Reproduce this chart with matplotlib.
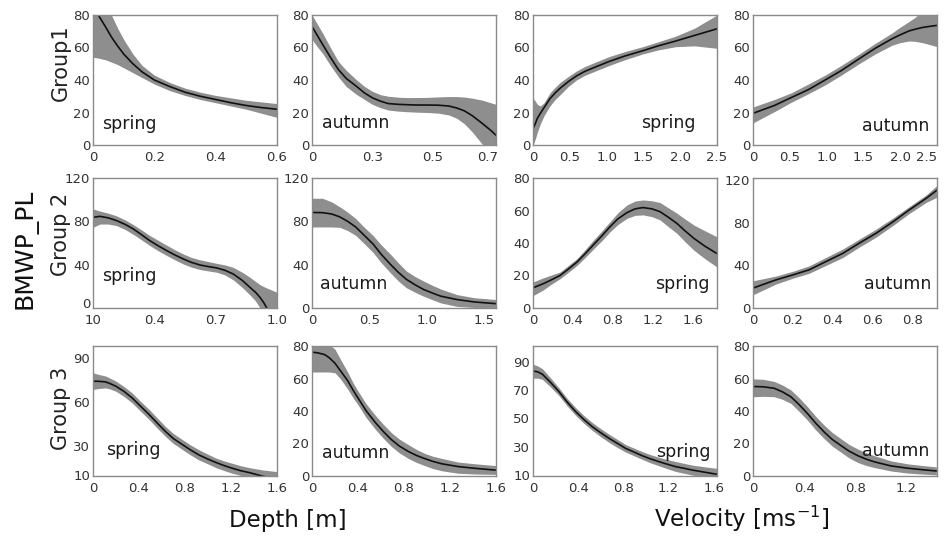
import matplotlib
matplotlib.use("Agg")
import matplotlib.pyplot as plt

plt.rcParams["font.family"] = ["DejaVu Sans"]

# values: x, fitted curve, lower / upper band edge
# --- Group 1 ---
g1_dep_spr_x = [0, 0.017, 0.04, 0.06, 0.08, 0.1, 0.13, 0.16, 0.2, 0.25, 0.3, 0.35, 0.4, 0.45, 0.5, 0.55, 0.6]
g1_dep_spr_fit = [86, 80, 73, 66.5, 61, 56, 50, 45, 40, 36, 32.5, 30, 28, 26, 24.3, 23, 22]
g1_dep_spr_lo = [54, 53.5, 52.5, 51, 49.5, 47.5, 44.5, 41.5, 37.5, 33.5, 30.5, 28, 26, 24, 22, 19.5, 17]
g1_dep_spr_hi = [110, 100, 90, 80, 72, 65, 56, 49, 43, 38.5, 35, 32.5, 30.5, 29, 27.5, 26.5, 25.5]

g1_dep_aut_x = [0, 0.02, 0.04, 0.07, 0.1, 0.13, 0.17, 0.2, 0.23, 0.26, 0.29, 0.33, 0.36, 0.4,
                0.44, 0.48, 0.52, 0.55, 0.58, 0.61, 0.65, 0.68, 0.7]
g1_dep_aut_fit = [73, 67.5, 62, 54, 46.5, 41, 36, 32, 29, 27, 25.5, 25, 24.8, 24.6,
                  24.6, 24.5, 24, 22.8, 21, 18, 13, 9, 6]
g1_dep_aut_lo = [65, 60.5, 56.5, 49, 42, 36, 31, 28, 25, 23, 21.5, 20.8, 20.5, 20.2,
                 20, 19.6, 18.5, 16.5, 13, 8, 0, -7, -12]
g1_dep_aut_hi = [80, 74.5, 69, 60, 51.5, 46, 40, 36, 33, 31, 30, 29.4, 29.2, 29.2,
                 29.3, 29.6, 29.8, 29.8, 29.5, 28.8, 27.5, 26, 25]

g1_vel_spr_x = [0, 0.03, 0.06, 0.1, 0.15, 0.23, 0.3, 0.37, 0.48, 0.59, 0.7, 0.82, 1.04, 1.25,
                1.49, 1.7, 1.94, 2.2, 2.5]
g1_vel_spr_fit = [10, 13, 16.5, 19.5, 23, 28.5, 32, 35, 39, 42.5, 45.2, 47.5, 51.5, 54.8,
                  58, 61, 64, 67.5, 71.5]
g1_vel_spr_lo = [0, 3.5, 8, 13, 18, 24, 28, 31, 36, 40, 42.8, 45, 49, 52.5,
                 56, 58.5, 60.5, 61, 59.5]
g1_vel_spr_hi = [29, 27, 25, 24, 26, 32, 35.5, 38.5, 42.2, 45.5, 48.2, 50.5, 54.5, 57.5,
                 60.5, 63.5, 67, 72, 80]

g1_vel_aut_x = [0, 0.29, 0.52, 0.75, 0.98, 1.2, 1.43, 1.66, 1.89, 2.0, 2.12, 2.2, 2.3, 2.4, 2.5]
g1_vel_aut_fit = [19.5, 24.3, 29.2, 34, 40, 45.8, 52.7, 59.5, 65.4, 67.8, 70.2, 71.2, 72.3, 73, 73.6]
g1_vel_aut_lo = [13.6, 20.5, 26.3, 31.5, 37, 43, 49.7, 56, 61.4, 63, 64, 63.8, 63, 61.8, 60.5]
g1_vel_aut_hi = [23.4, 28, 32.1, 37.5, 43, 49, 55.6, 62.5, 69, 72.5, 76, 78.5, 82, 85, 88]

# --- Group 2 ---
g2_dep_spr_x = [0.1, 0.134, 0.175, 0.216, 0.257, 0.297, 0.338, 0.379, 0.42, 0.46, 0.5, 0.542,
                0.58, 0.623, 0.665, 0.705, 0.745, 0.786, 0.83, 0.868, 0.895, 0.917, 0.935,
                0.95, 0.975, 1.0]
g2_dep_spr_fit = [83.7, 84.6, 83.2, 80.6, 77.2, 73, 67.6, 62, 57.3, 53, 49, 45.2,
                  42.2, 39.7, 38.2, 37, 34.8, 31.4, 25.5, 19, 14.5, 9.8, 5,
                  0, -6, -12]
g2_dep_spr_lo = [74.5, 77.5, 77.5, 76, 72.5, 68, 62.8, 57.5, 52.7, 48.5, 44.5, 40.6,
                 37.8, 35.5, 34.2, 33, 30.5, 26, 19, 12, 6.5, 0, -5,
                 -10, -17, -25]
g2_dep_spr_hi = [91.4, 89.5, 87.5, 85, 81.3, 77, 72, 66.8, 62.3, 58, 53.8, 49.8,
                 46.8, 44.5, 42.8, 41.2, 39.8, 37.5, 33, 28.3, 24.5, 21.5, 19.8,
                 18.5, 16.5, 14.5]

g2_dep_aut_x = [0, 0.09, 0.17, 0.24, 0.31, 0.38, 0.45, 0.53, 0.6, 0.68, 0.75, 0.82, 0.9, 0.97,
                1.05, 1.12, 1.26, 1.41, 1.6]
g2_dep_aut_fit = [88.2, 88, 86.8, 84.2, 80, 74.8, 67.5, 59.2, 49.8, 40.5, 33, 26.5, 21.2, 17.1,
                  13.7, 10.9, 7.8, 5.6, 4]
g2_dep_aut_lo = [74.8, 74.8, 74.8, 74.5, 71.5, 67, 59.8, 51.4, 42, 32.7, 25, 18.7, 14.3, 10.9,
                 7.5, 4.7, 1.5, 0.5, 0]
g2_dep_aut_hi = [101.3, 101.3, 98, 93.5, 88.5, 82.6, 75, 67, 58.5, 49.9, 41.8, 34.2, 28.8, 24.9,
                 20.8, 17.5, 12.4, 9.5, 7.8]

g2_vel_spr_x = [0, 0.1, 0.18, 0.27, 0.35, 0.44, 0.52, 0.6, 0.69, 0.77, 0.85, 0.94, 1.02, 1.1,
                1.19, 1.27, 1.35, 1.44, 1.52, 1.61, 1.72, 1.84]
g2_vel_spr_fit = [12.4, 14.9, 17.2, 20, 23.8, 28.3, 33.3, 38.6, 44.5, 50, 54.9, 58.7, 61, 61.8,
                  61, 59.3, 56, 52, 47.5, 42.8, 38, 33.5]
g2_vel_spr_lo = [7.6, 11, 14.5, 18, 21.8, 26.2, 31, 36, 41.5, 46.9, 51.4, 55.2, 57, 57.3,
                 56.2, 54.2, 50.2, 45.9, 40.8, 35.5, 30.3, 25.2]
g2_vel_spr_hi = [16, 18.5, 20.2, 22.1, 26, 30.4, 35.8, 41.5, 47.5, 53.1, 58.7, 63.4, 65.8, 66.5,
                 66, 64.9, 61.8, 58.3, 54.8, 51, 47.5, 43.8]

g2_vel_aut_x = [0, 0.115, 0.2, 0.28, 0.365, 0.45, 0.53, 0.615, 0.7, 0.78, 0.865, 0.92]
g2_vel_aut_fit = [18.7, 26.4, 31.1, 35.8, 43.6, 51.4, 60.7, 70.1, 80.9, 91.9, 102.8, 110.6]
g2_vel_aut_lo = [12.4, 22.5, 28, 32.5, 40, 47.5, 57, 66.5, 77.5, 88.5, 99, 104]
g2_vel_aut_hi = [25.5, 30, 34.5, 39.5, 47.5, 55.5, 64.5, 74, 84.5, 95, 106, 115]

# --- Group 3 ---
g3_dep_spr_x = [0, 0.05, 0.11, 0.15, 0.2, 0.27, 0.34, 0.41, 0.49, 0.56, 0.63, 0.7, 0.78, 0.85,
                0.92, 1.0, 1.07, 1.14, 1.21, 1.28, 1.36, 1.47, 1.6]
g3_dep_spr_fit = [74, 73.9, 73.5, 72.3, 70.5, 67, 62.6, 57.2, 51.1, 45.3, 39.7, 34.8, 30.6, 27,
                  23.7, 20.8, 18.5, 16.4, 14.6, 13, 11.6, 9.3, 7]
g3_dep_spr_lo = [68.3, 69, 69.4, 68.6, 67.1, 63.5, 59.2, 53.8, 47.7, 41.8, 36.3, 31.4, 27.2, 23.6,
                 20.3, 17.5, 15, 13, 11.2, 9.8, 8.5, 6, 3]
g3_dep_spr_hi = [79.7, 78.6, 77.5, 76, 74, 70.3, 66, 60.5, 54.6, 48.8, 43.1, 38.2, 34, 30.4,
                 27.2, 24.1, 21.5, 19.6, 18, 16.4, 15, 13.5, 12.3]

g3_dep_aut_x = [0, 0.05, 0.11, 0.15, 0.2, 0.25, 0.31, 0.36, 0.4, 0.47, 0.55, 0.62, 0.69, 0.76,
                0.84, 0.91, 0.98, 1.05, 1.13, 1.27, 1.42, 1.6]
g3_dep_aut_fit = [76.2, 75.8, 74.7, 72.8, 69.4, 64.5, 58.7, 52.5, 48, 40.2, 33, 27.4, 22.4, 18.4,
                  15, 12.6, 10.7, 9, 7.5, 5.8, 4.7, 3.6]
g3_dep_aut_lo = [64, 64, 64, 64, 63.5, 59.5, 53.5, 47.8, 43.8, 36, 28.8, 23.2, 18.2, 14.2,
                 10.7, 8.3, 6.4, 4.6, 3.2, 1.7, 1.2, 1]
g3_dep_aut_hi = [90, 87, 84, 81, 78, 71.5, 64, 57, 52.3, 44.5, 37.4, 31.8, 26.7, 22.7,
                 19.2, 16.3, 13.9, 12.2, 10.8, 8.6, 7.5, 6.4]

g3_vel_spr_x = [0, 0.04, 0.083, 0.15, 0.23, 0.3, 0.378, 0.45, 0.525, 0.6, 0.673, 0.75, 0.82, 0.9,
                0.968, 1.04, 1.116, 1.19, 1.264, 1.34, 1.41, 1.52, 1.63]
g3_vel_spr_fit = [83.4, 82.8, 81.1, 75.8, 68.8, 61.7, 54.7, 49.2, 44.1, 39.8, 35.9, 32.2, 28.8, 26,
                  23.6, 21.4, 19.4, 17.6, 15.9, 14.7, 13.5, 12, 10.5]
g3_vel_spr_lo = [78.3, 78.3, 77.5, 72.5, 66, 59, 52, 46.5, 41.5, 37, 33, 29.3, 26.2, 23.4,
                 21, 18.6, 16.5, 14.4, 12.5, 11.2, 10, 8.5, 7]
g3_vel_spr_hi = [88.2, 87, 85, 79, 71.5, 64.3, 57.5, 52, 47, 42.7, 38.8, 35, 31.5, 28.8,
                 26.5, 24.4, 22.5, 20.9, 19.5, 18.2, 17, 15.8, 14.7]

g3_vel_aut_x = [0, 0.08, 0.165, 0.23, 0.296, 0.36, 0.427, 0.49, 0.558, 0.62, 0.689, 0.75, 0.82,
                0.885, 0.95, 1.08, 1.21, 1.32, 1.435]
g3_vel_aut_fit = [55.1, 54.9, 54, 51.8, 48.8, 44, 38.4, 32.6, 27, 22.5, 18.7, 15.4, 12.5,
                  10.4, 8.7, 6.2, 4.8, 3.9, 3.1]
g3_vel_aut_lo = [48.8, 49, 48.8, 47.2, 44.7, 39.8, 34.3, 28.4, 22.9, 18.4, 14.6, 11.2, 8.3,
                 6.5, 5.2, 3.1, 1.8, 1.2, 0.7]
g3_vel_aut_hi = [59.8, 59.5, 58.2, 56, 53, 48.2, 42.6, 36.8, 31.2, 26.8, 22.9, 19.5, 16.6,
                 14.3, 12.5, 9.3, 7.5, 6.5, 5.6]

groups = ["Group1", "Group 2", "Group 3"]
seasons = ["spring", "autumn", "spring", "autumn"]

# per-panel axis set-up: (xlim, xticks, xticklabels, ylim, yticks)
axis_spec = [
    [((0, 0.6), [0, 0.2, 0.4, 0.6], ["0", "0.2", "0.4", "0.6"], (0, 80), [0, 20, 40, 60, 80]),
     ((0, 0.7), [0, 0.23, 0.46, 0.67], ["0", "0.3", "0.5", "0.7"], (0, 80), [0, 20, 40, 60, 80]),
     ((0, 2.5), [0, 0.5, 1.0, 1.5, 2.0, 2.5], ["0", "0.5", "1.0", "1.5", "2.0", "2.5"], (0, 80), [0, 20, 40, 60, 80]),
     ((0, 2.5), [0, 0.5, 1.0, 1.5, 2.0, 2.5], ["0", "0.5", "1.0", "1.5", "2.0", "2.5"], (0, 80), [0, 20, 40, 60, 80])],
    [((0.1, 1.0), [0.1, 0.4, 0.7, 1.0], ["10", "0.4", "0.7", "1.0"], (0, 120), [0, 40, 80, 120]),
     ((0, 1.6), [0, 0.5, 1.0, 1.5], ["0", "0.5", "1.0", "1.5"], (0, 120), [0, 40, 80, 120]),
     ((0, 1.84), [0, 0.4, 0.8, 1.2, 1.6], ["0", "0.4", "0.8", "1.2", "1.6"], (0, 80), [0, 20, 40, 60, 80]),
     ((0, 0.92), [0, 0.2, 0.4, 0.6, 0.8], ["0", "0.2", "0.4", "0.6", "0.8"], (0, 122), [0, 40, 80, 120])],
    [((0, 1.6), [0, 0.4, 0.8, 1.2, 1.6], ["0", "0.4", "0.8", "1.2", "1.6"], (9.3, 98), [10, 30, 60, 90]),
     ((0, 1.6), [0, 0.4, 0.8, 1.2, 1.6], ["0", "0.4", "0.8", "1.2", "1.6"], (0, 80), [0, 20, 40, 60, 80]),
     ((0, 1.63), [0, 0.4, 0.8, 1.2, 1.6], ["0", "0.4", "0.8", "1.2", "1.6"], (9.3, 101), [10, 30, 50, 70, 90]),
     ((0, 1.44), [0, 0.4, 0.8, 1.2], ["0", "0.4", "0.8", "1.2"], (0, 80), [0, 20, 40, 60, 80])],
]

data = [
    [(g1_dep_spr_x, g1_dep_spr_fit, g1_dep_spr_lo, g1_dep_spr_hi),
     (g1_dep_aut_x, g1_dep_aut_fit, g1_dep_aut_lo, g1_dep_aut_hi),
     (g1_vel_spr_x, g1_vel_spr_fit, g1_vel_spr_lo, g1_vel_spr_hi),
     (g1_vel_aut_x, g1_vel_aut_fit, g1_vel_aut_lo, g1_vel_aut_hi)],
    [(g2_dep_spr_x, g2_dep_spr_fit, g2_dep_spr_lo, g2_dep_spr_hi),
     (g2_dep_aut_x, g2_dep_aut_fit, g2_dep_aut_lo, g2_dep_aut_hi),
     (g2_vel_spr_x, g2_vel_spr_fit, g2_vel_spr_lo, g2_vel_spr_hi),
     (g2_vel_aut_x, g2_vel_aut_fit, g2_vel_aut_lo, g2_vel_aut_hi)],
    [(g3_dep_spr_x, g3_dep_spr_fit, g3_dep_spr_lo, g3_dep_spr_hi),
     (g3_dep_aut_x, g3_dep_aut_fit, g3_dep_aut_lo, g3_dep_aut_hi),
     (g3_vel_spr_x, g3_vel_spr_fit, g3_vel_spr_lo, g3_vel_spr_hi),
     (g3_vel_aut_x, g3_vel_aut_fit, g3_vel_aut_lo, g3_vel_aut_hi)],
]

# season label anchor in axes coords: (x, y, ha)
label_pos = [
    [(0.05, 0.12, "left"), (0.054, 0.128, "left"), (0.886, 0.128, "right"), (0.956, 0.107, "right")],
    [(0.05, 0.21, "left"), (0.044, 0.145, "left"), (0.957, 0.146, "right"), (0.967, 0.145, "right")],
    [(0.07, 0.163, "left"), (0.055, 0.137, "left"), (0.967, 0.148, "right"), (0.956, 0.15, "right")],
]

W, H = 944, 537
col_left = [93, 312, 533, 753]
row_top = [15, 178, 346]
AW, AH = 184, 130
BAND = "#8e8e8e"
SPINE = "#8a8a8a"
TICKC = "#333333"

fig = plt.figure(figsize=(W / 100, H / 100), dpi=100)
for r in range(3):
    for c in range(4):
        ax = fig.add_axes([col_left[c] / W, (H - row_top[r] - AH) / H, AW / W, AH / H])
        x, fit, lo, hi = data[r][c]
        xlim, xt, xtl, ylim, yt = axis_spec[r][c]
        ax.fill_between(x, lo, hi, color=BAND, lw=0)
        ax.plot(x, fit, color="#111111", lw=1.2)
        ax.set_xlim(*xlim)
        ax.set_ylim(*ylim)
        ax.set_xticks(xt)
        ax.set_xticklabels(xtl)
        ax.set_yticks(yt)
        ax.tick_params(length=0, labelsize=9.5, colors=TICKC)
        ax.tick_params(axis="x", pad=4)
        ax.tick_params(axis="y", pad=2)
        for s in ax.spines.values():
            s.set_color(SPINE)
            s.set_linewidth(1.0)
        if r == 0 and c == 3:
            ax.get_xticklabels()[-1].set_horizontalalignment("right")
        if r == 1 and c == 0:
            # the "0" sits a little higher so it clears the "10" below it
            ax.get_yticklabels()[0].set_verticalalignment("baseline")
        lx, ly, ha = label_pos[r][c]
        ax.text(lx, ly, seasons[c], transform=ax.transAxes, ha=ha, va="baseline",
                fontsize=12.5, color="#1a1a1a")

group_y = [63, 234, 408]
for g, yy in zip(groups, group_y):
    fig.text(61 / W, 1 - yy / H, g, rotation=90, ha="center", va="center",
             fontsize=15, color="#222222")

fig.text(25 / W, 1 - 249 / H, "BMWP_PL", rotation=90, ha="center", va="center",
         fontsize=18, color="#111111")
fig.text(288 / W, 1 - 527 / H, "Depth [m]", ha="center", va="baseline",
         fontsize=16.5, color="#111111")
fig.text(742 / W, 1 - 527 / H, "Velocity [ms$^{-1}$]", ha="center", va="baseline",
         fontsize=16.5, color="#111111")

fig.savefig("out.png", dpi=100)
